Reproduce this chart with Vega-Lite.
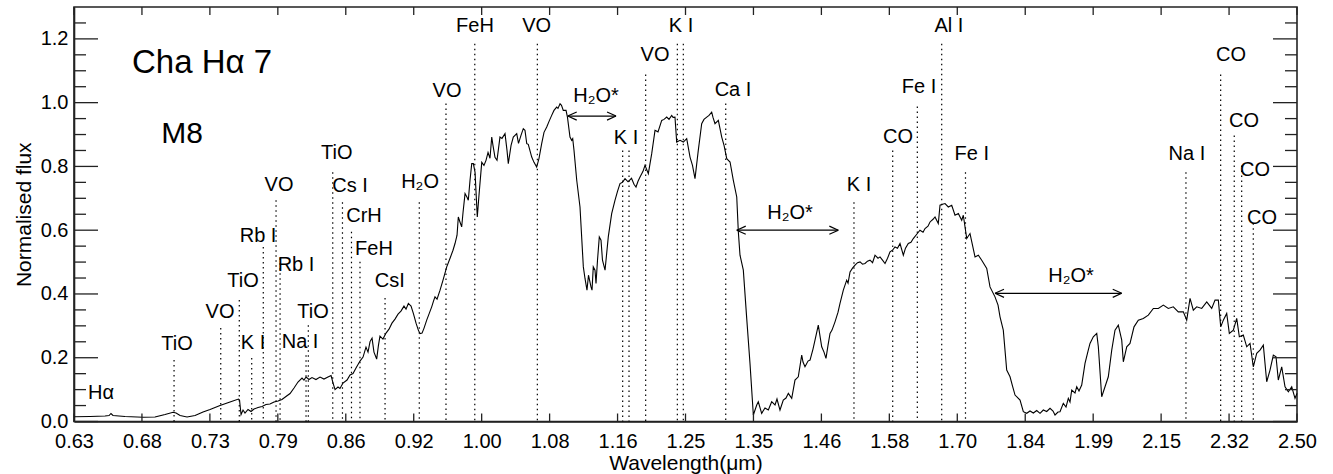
{
 "$schema": "https://vega.github.io/schema/vega-lite/v6.json",
 "width": 1223,
 "height": 414.5,
 "autosize": {"type": "none"},
 "padding": {"left": 74, "top": 7, "right": 36, "bottom": 52.5},
 "background": "white",
 "config": {
  "view": {"stroke": "#222", "strokeWidth": 1.6},
  "font": "Liberation Sans",
  "axis": {"grid": false, "domainColor": "#222", "domainWidth": 1.6, "ticks": false, "labelColor": "#000", "labelFontSize": 20, "labelFont": "Liberation Sans", "titleFont": "Liberation Sans", "titleFontSize": 21, "titleFontWeight": "normal", "titleColor": "#000"}
 },
 "datasets": {
  "xticks": [{"v":0.63},{"v":0.680137},{"v":0.734264},{"v":0.792698},{"v":0.855783},{"v":0.923888},{"v":0.997413},{"v":1.07679},{"v":1.162484},{"v":1.254998},{"v":1.354874},{"v":1.462698},{"v":1.579103},{"v":1.704772},{"v":1.840442},{"v":1.986909},{"v":2.145033},{"v":2.315743},{"v":2.5}],
  "ymajor": [{"v":0},{"v":0.2},{"v":0.4},{"v":0.6},{"v":0.8},{"v":1.0},{"v":1.2}],
  "yminor": [{"v":0.05},{"v":0.1},{"v":0.15},{"v":0.25},{"v":0.3},{"v":0.35},{"v":0.45},{"v":0.5},{"v":0.55},{"v":0.65},{"v":0.7},{"v":0.75},{"v":0.85},{"v":0.9},{"v":0.95},{"v":1.05},{"v":1.1},{"v":1.15},{"v":1.25}],
  "lines": [
   {"species": "TiO", "lam": 0.7052, "top": 0.193},
   {"species": "VO", "lam": 0.7433, "top": 0.293},
   {"species": "TiO", "lam": 0.7590, "top": 0.381},
   {"species": "K I", "lam": 0.7697, "top": 0.199},
   {"species": "Rb I", "lam": 0.7798, "top": 0.547},
   {"species": "VO", "lam": 0.7911, "top": 0.694},
   {"species": "Rb I", "lam": 0.7947, "top": 0.512},
   {"species": "Na I", "lam": 0.8183, "top": 0.208},
   {"species": "TiO", "lam": 0.8204, "top": 0.302},
   {"species": "TiO", "lam": 0.8433, "top": 0.782},
   {"species": "Cs I", "lam": 0.8526, "top": 0.688},
   {"species": "CrH", "lam": 0.8613, "top": 0.595},
   {"species": "FeH", "lam": 0.8696, "top": 0.501},
   {"species": "CsI", "lam": 0.8945, "top": 0.387},
   {"species": "H2O", "lam": 0.9297, "top": 0.688},
   {"species": "VO", "lam": 0.9581, "top": 0.997},
   {"species": "FeH", "lam": 0.9897, "top": 1.185},
   {"species": "VO", "lam": 1.0620, "top": 1.185},
   {"species": "K I", "lam": 1.1692, "top": 0.850},
   {"species": "K I", "lam": 1.1776, "top": 0.850},
   {"species": "VO", "lam": 1.1999, "top": 1.088},
   {"species": "K I", "lam": 1.2435, "top": 1.185},
   {"species": "K I", "lam": 1.2519, "top": 1.185},
   {"species": "Ca I", "lam": 1.3132, "top": 0.997},
   {"species": "K I", "lam": 1.5174, "top": 0.688},
   {"species": "CO", "lam": 1.5851, "top": 0.850},
   {"species": "Fe I", "lam": 1.6297, "top": 0.988},
   {"species": "Al I", "lam": 1.6751, "top": 1.185},
   {"species": "Fe I", "lam": 1.7206, "top": 0.782},
   {"species": "Na I", "lam": 2.2059, "top": 0.782},
   {"species": "CO", "lam": 2.2939, "top": 1.088},
   {"species": "CO", "lam": 2.3293, "top": 0.897},
   {"species": "CO", "lam": 2.3489, "top": 0.803},
   {"species": "CO", "lam": 2.3798, "top": 0.622}
  ],
  "labels": [
   {"label": "Hα", "lam": 0.6495, "f": 0.089},
   {"label": "TiO", "lam": 0.7076, "f": 0.243},
   {"label": "VO", "lam": 0.7427, "f": 0.343},
   {"label": "TiO", "lam": 0.7622, "f": 0.440},
   {"label": "K I", "lam": 0.7708, "f": 0.246},
   {"label": "Rb I", "lam": 0.7752, "f": 0.581},
   {"label": "VO", "lam": 0.7938, "f": 0.741},
   {"label": "Rb I", "lam": 0.8091, "f": 0.490},
   {"label": "TiO", "lam": 0.8248, "f": 0.343},
   {"label": "Na I", "lam": 0.8128, "f": 0.249},
   {"label": "TiO", "lam": 0.8471, "f": 0.841},
   {"label": "Cs I", "lam": 0.8599, "f": 0.738},
   {"label": "CrH", "lam": 0.8735, "f": 0.644},
   {"label": "FeH", "lam": 0.8834, "f": 0.542},
   {"label": "CsI", "lam": 0.8992, "f": 0.440},
   {"label": "H₂O", "lam": 0.9305, "f": 0.750},
   {"label": "VO", "lam": 0.9592, "f": 1.038},
   {"label": "FeH", "lam": 0.9899, "f": 1.240},
   {"label": "VO", "lam": 1.0612, "f": 1.240},
   {"label": "H₂O*", "lam": 1.1346, "f": 1.020},
   {"label": "K I", "lam": 1.1736, "f": 0.890},
   {"label": "VO", "lam": 1.2126, "f": 1.151},
   {"label": "K I", "lam": 1.2487, "f": 1.240},
   {"label": "Ca I", "lam": 1.3240, "f": 1.040},
   {"label": "H₂O*", "lam": 1.4118, "f": 0.653},
   {"label": "K I", "lam": 1.5260, "f": 0.742},
   {"label": "CO", "lam": 1.5946, "f": 0.893},
   {"label": "Fe I", "lam": 1.6328, "f": 1.049},
   {"label": "Al I", "lam": 1.6889, "f": 1.240},
   {"label": "Fe I", "lam": 1.7327, "f": 0.840},
   {"label": "H₂O*", "lam": 1.9379, "f": 0.456},
   {"label": "Na I", "lam": 2.2084, "f": 0.839},
   {"label": "CO", "lam": 2.3207, "f": 1.151},
   {"label": "CO", "lam": 2.3549, "f": 0.943},
   {"label": "CO", "lam": 2.3843, "f": 0.788},
   {"label": "CO", "lam": 2.4032, "f": 0.639}
  ],
  "arrows": [
   {"lam1": 1.0990, "lam2": 1.1605, "f": 0.958},
   {"lam1": 1.3296, "lam2": 1.4909, "f": 0.600},
   {"lam1": 1.7788, "lam2": 2.0519, "f": 0.402}
  ],
  "spectrum": [
   {"w":0.6300,"f":0.0150},{"w":0.6415,"f":0.0157},{"w":0.6524,"f":0.0172},{"w":0.6554,"f":0.0188},{"w":0.6568,"f":0.0251},{"w":0.6583,"f":0.0188},{"w":0.6673,"f":0.0157},{"w":0.6810,"f":0.0132},{"w":0.6902,"f":0.0141},{"w":0.6981,"f":0.0219},
   {"w":0.7044,"f":0.0288},{"w":0.7068,"f":0.0266},{"w":0.7100,"f":0.0188},{"w":0.7156,"f":0.0141},{"w":0.7221,"f":0.0188},{"w":0.7286,"f":0.0298},{"w":0.7344,"f":0.0376},{"w":0.7427,"f":0.0501},{"w":0.7511,"f":0.0611},{"w":0.7583,"f":0.0705},
   {"w":0.7592,"f":0.0673},{"w":0.7605,"f":0.0219},{"w":0.7622,"f":0.0360},{"w":0.7639,"f":0.0266},{"w":0.7665,"f":0.0376},{"w":0.7691,"f":0.0313},{"w":0.7717,"f":0.0392},{"w":0.7752,"f":0.0439},{"w":0.7787,"f":0.0470},{"w":0.7822,"f":0.0532},
   {"w":0.7857,"f":0.0548},{"w":0.7893,"f":0.0611},{"w":0.7929,"f":0.0642},{"w":0.7964,"f":0.0689},{"w":0.8000,"f":0.0783},{"w":0.8037,"f":0.0877},{"w":0.8073,"f":0.1049},{"w":0.8109,"f":0.1237},{"w":0.8146,"f":0.1363},{"w":0.8164,"f":0.1300},
   {"w":0.8183,"f":0.1394},{"w":0.8210,"f":0.1316},{"w":0.8238,"f":0.1378},{"w":0.8275,"f":0.1316},{"w":0.8313,"f":0.1394},{"w":0.8350,"f":0.1331},{"w":0.8388,"f":0.1394},{"w":0.8417,"f":0.1441},{"w":0.8436,"f":0.1206},{"w":0.8455,"f":0.1002},
   {"w":0.8483,"f":0.1081},{"w":0.8502,"f":0.1034},{"w":0.8531,"f":0.1206},{"w":0.8570,"f":0.1300},{"w":0.8599,"f":0.1457},{"w":0.8628,"f":0.1504},{"w":0.8657,"f":0.1676},{"w":0.8696,"f":0.1895},{"w":0.8726,"f":0.2020},{"w":0.8755,"f":0.2334},
   {"w":0.8775,"f":0.2177},{"w":0.8795,"f":0.2506},{"w":0.8815,"f":0.2615},{"w":0.8834,"f":0.2177},{"w":0.8861,"f":0.1958},{"w":0.8879,"f":0.2396},{"w":0.8894,"f":0.2678},{"w":0.8924,"f":0.2584},{"w":0.8955,"f":0.2772},{"w":0.8985,"f":0.2897},
   {"w":0.9015,"f":0.3085},{"w":0.9046,"f":0.3211},{"w":0.9077,"f":0.3367},{"w":0.9107,"f":0.3461},{"w":0.9138,"f":0.3618},{"w":0.9159,"f":0.3524},{"w":0.9183,"f":0.3702},{"w":0.9211,"f":0.3618},{"w":0.9235,"f":0.3389},{"w":0.9263,"f":0.3085},
   {"w":0.9287,"f":0.2866},{"w":0.9305,"f":0.2756},{"w":0.9326,"f":0.2772},{"w":0.9347,"f":0.2929},{"w":0.9375,"f":0.3179},{"w":0.9399,"f":0.3367},{"w":0.9428,"f":0.3596},{"w":0.9447,"f":0.3774},{"w":0.9463,"f":0.3909},{"w":0.9485,"f":0.3837},
   {"w":0.9517,"f":0.4119},{"w":0.9549,"f":0.4432},{"w":0.9589,"f":0.4849},{"w":0.9625,"f":0.5121},{"w":0.9657,"f":0.5372},{"w":0.9679,"f":0.5582},{"w":0.9701,"f":0.5842},{"w":0.9715,"f":0.6415},{"w":0.9734,"f":0.6249},{"w":0.9752,"f":0.6102},
   {"w":0.9767,"f":0.6562},{"w":0.9789,"f":0.7148},{"w":0.9811,"f":0.7032},{"w":0.9825,"f":0.6938},{"w":0.9844,"f":0.7565},{"w":0.9863,"f":0.8088},{"w":0.9881,"f":0.8088},{"w":0.9900,"f":0.7815},{"w":0.9925,"f":0.6415},{"w":0.9944,"f":0.7095},
   {"w":0.9975,"f":0.8128},{"w":1.0000,"f":0.8034},{"w":1.0023,"f":0.8191},{"w":1.0046,"f":0.8441},{"w":1.0068,"f":0.8254},{"w":1.0088,"f":0.8921},{"w":1.0102,"f":0.8661},{"w":1.0125,"f":0.8285},{"w":1.0148,"f":0.8191},{"w":1.0182,"f":0.8921},
   {"w":1.0205,"f":0.8880},{"w":1.0240,"f":0.9027},{"w":1.0263,"f":0.8504},{"w":1.0278,"f":0.8088},{"w":1.0310,"f":0.8661},{"w":1.0336,"f":0.8921},{"w":1.0376,"f":0.9027},{"w":1.0397,"f":0.8723},{"w":1.0426,"f":0.8974},{"w":1.0453,"f":0.9184},
   {"w":1.0473,"f":0.9131},{"w":1.0494,"f":0.8714},{"w":1.0512,"f":0.8692},{"w":1.0553,"f":0.8294},{"w":1.0580,"f":0.8128},{"w":1.0612,"f":0.7981},{"w":1.0640,"f":0.8254},{"w":1.0672,"f":0.8714},{"w":1.0700,"f":0.9068},{"w":1.0733,"f":0.9234},
   {"w":1.0761,"f":0.9413},{"w":1.0793,"f":0.9601},{"w":1.0821,"f":0.9757},{"w":1.0854,"f":0.9860},{"w":1.0870,"f":0.9820},{"w":1.0895,"f":0.9967},{"w":1.0913,"f":0.9914},{"w":1.0935,"f":0.9757},{"w":1.0969,"f":0.9757},{"w":1.0987,"f":0.9538},
   {"w":1.1018,"f":0.8921},{"w":1.1039,"f":0.8817},{"w":1.1052,"f":0.8871},{"w":1.1068,"f":0.8504},{"w":1.1102,"f":0.7565},{"w":1.1143,"f":0.6728},{"w":1.1185,"f":0.4849},{"w":1.1206,"f":0.4486},{"w":1.1231,"f":0.4119},{"w":1.1250,"f":0.4589},
   {"w":1.1282,"f":0.4222},{"w":1.1295,"f":0.4119},{"w":1.1311,"f":0.4849},{"w":1.1333,"f":0.4746},{"w":1.1346,"f":0.4329},{"w":1.1365,"f":0.5059},{"w":1.1388,"f":0.5789},{"w":1.1410,"f":0.5685},{"w":1.1429,"f":0.5059},{"w":1.1462,"f":0.4746},
   {"w":1.1504,"f":0.5789},{"w":1.1548,"f":0.6522},{"w":1.1591,"f":0.6938},{"w":1.1624,"f":0.7220},{"w":1.1657,"f":0.7461},{"w":1.1690,"f":0.7502},{"w":1.1723,"f":0.7618},{"w":1.1763,"f":0.7518},{"w":1.1809,"f":0.7627},{"w":1.1842,"f":0.7439},
   {"w":1.1869,"f":0.7355},{"w":1.1896,"f":0.7533},{"w":1.1923,"f":0.7668},{"w":1.1963,"f":0.7846},{"w":1.1990,"f":0.8034},{"w":1.2035,"f":0.7774},{"w":1.2081,"f":0.8401},{"w":1.2126,"f":0.9131},{"w":1.2167,"f":0.9084},{"w":1.2218,"f":0.9444},
   {"w":1.2250,"f":0.9475},{"w":1.2287,"f":0.9547},{"w":1.2319,"f":0.9475},{"w":1.2356,"f":0.9601},{"w":1.2375,"f":0.9538},{"w":1.2402,"f":0.9547},{"w":1.2426,"f":0.8764},{"w":1.2473,"f":0.8817},{"w":1.2519,"f":0.8764},{"w":1.2567,"f":0.8871},
   {"w":1.2614,"f":0.8294},{"w":1.2649,"f":0.8034},{"w":1.2685,"f":0.7618},{"w":1.2732,"f":0.8504},{"w":1.2781,"f":0.9341},{"w":1.2814,"f":0.9475},{"w":1.2854,"f":0.9547},{"w":1.2887,"f":0.9601},{"w":1.2926,"f":0.9704},{"w":1.2945,"f":0.9538},
   {"w":1.2974,"f":0.9341},{"w":1.3023,"f":0.9444},{"w":1.3073,"f":0.8921},{"w":1.3107,"f":0.8661},{"w":1.3147,"f":0.8244},{"w":1.3196,"f":0.8138},{"w":1.3245,"f":0.7565},{"w":1.3296,"f":0.7041},{"w":1.3320,"f":0.5945},{"w":1.3345,"f":0.5215},
   {"w":1.3395,"f":0.4746},{"w":1.3446,"f":0.3242},{"w":1.3496,"f":0.1823},{"w":1.3547,"f":0.0204},{"w":1.3599,"f":0.0517},{"w":1.3623,"f":0.0620},{"w":1.3675,"f":0.0257},{"w":1.3726,"f":0.0423},{"w":1.3778,"f":0.0360},{"w":1.3830,"f":0.0620},
   {"w":1.3882,"f":0.0517},{"w":1.3913,"f":0.0705},{"w":1.3960,"f":0.0360},{"w":1.4012,"f":0.0673},{"w":1.4055,"f":0.0736},{"w":1.4092,"f":0.0883},{"w":1.4146,"f":0.0727},{"w":1.4198,"f":0.1300},{"w":1.4251,"f":0.1403},{"w":1.4306,"f":0.2083},
   {"w":1.4327,"f":0.1864},{"w":1.4359,"f":0.1716},{"w":1.4408,"f":0.1895},{"w":1.4441,"f":0.1926},{"w":1.4489,"f":0.2271},{"w":1.4522,"f":0.2553},{"w":1.4576,"f":0.3023},{"w":1.4632,"f":0.2343},{"w":1.4670,"f":0.2177},{"w":1.4703,"f":0.1980},
   {"w":1.4737,"f":0.2396},{"w":1.4770,"f":0.2763},{"w":1.4803,"f":0.2866},{"w":1.4853,"f":0.3126},{"w":1.4904,"f":0.3430},{"w":1.4937,"f":0.3702},{"w":1.4993,"f":0.4119},{"w":1.5050,"f":0.4432},{"w":1.5073,"f":0.4338},{"w":1.5107,"f":0.4692},
   {"w":1.5149,"f":0.4808},{"w":1.5192,"f":0.4902},{"w":1.5235,"f":0.4980},{"w":1.5278,"f":0.5005},{"w":1.5321,"f":0.4933},{"w":1.5364,"f":0.4955},{"w":1.5407,"f":0.5027},{"w":1.5451,"f":0.5059},{"w":1.5495,"f":0.4980},{"w":1.5538,"f":0.5215},
   {"w":1.5591,"f":0.5121},{"w":1.5626,"f":0.5162},{"w":1.5670,"f":0.5059},{"w":1.5714,"f":0.4955},{"w":1.5759,"f":0.5121},{"w":1.5803,"f":0.5319},{"w":1.5848,"f":0.5372},{"w":1.5892,"f":0.5475},{"w":1.5937,"f":0.5435},{"w":1.5982,"f":0.5582},
   {"w":1.6042,"f":0.5215},{"w":1.6081,"f":0.5435},{"w":1.6132,"f":0.5582},{"w":1.6181,"f":0.5623},{"w":1.6223,"f":0.5738},{"w":1.6286,"f":0.5873},{"w":1.6346,"f":0.5998},{"w":1.6402,"f":0.5936},{"w":1.6439,"f":0.6052},{"w":1.6494,"f":0.6124},
   {"w":1.6532,"f":0.6258},{"w":1.6588,"f":0.6343},{"w":1.6625,"f":0.6415},{"w":1.6687,"f":0.6208},{"w":1.6719,"f":0.6782},{"w":1.6766,"f":0.6813},{"w":1.6814,"f":0.6835},{"w":1.6876,"f":0.6728},{"w":1.6941,"f":0.6782},{"w":1.7004,"f":0.6468},
   {"w":1.7068,"f":0.6522},{"w":1.7133,"f":0.6312},{"w":1.7164,"f":0.6468},{"w":1.7230,"f":0.5738},{"w":1.7294,"f":0.5895},{"w":1.7392,"f":0.5162},{"w":1.7457,"f":0.5215},{"w":1.7524,"f":0.5059},{"w":1.7623,"f":0.4799},{"w":1.7688,"f":0.4222},
   {"w":1.7788,"f":0.3909},{"w":1.7849,"f":0.3649},{"w":1.7889,"f":0.3283},{"w":1.7955,"f":0.2866},{"w":1.8024,"f":0.1613},{"w":1.8092,"f":0.1403},{"w":1.8143,"f":0.1112},{"w":1.8194,"f":0.0830},{"w":1.8297,"f":0.0673},{"w":1.8365,"f":0.0307},
   {"w":1.8435,"f":0.0257},{"w":1.8504,"f":0.0329},{"w":1.8573,"f":0.0266},{"w":1.8644,"f":0.0345},{"w":1.8714,"f":0.0257},{"w":1.8783,"f":0.0360},{"w":1.8855,"f":0.0313},{"w":1.8926,"f":0.0413},{"w":1.8990,"f":0.0329},{"w":1.9033,"f":0.0204},
   {"w":1.9097,"f":0.0298},{"w":1.9140,"f":0.0307},{"w":1.9211,"f":0.0570},{"w":1.9270,"f":0.0454},{"w":1.9320,"f":0.0727},{"w":1.9357,"f":0.0611},{"w":1.9394,"f":0.0987},{"w":1.9466,"f":0.0893},{"w":1.9504,"f":0.1090},{"w":1.9554,"f":0.0955},
   {"w":1.9614,"f":0.1143},{"w":1.9687,"f":0.1823},{"w":1.9754,"f":0.2208},{"w":1.9798,"f":0.2449},{"w":1.9872,"f":0.2656},{"w":1.9949,"f":0.2763},{"w":1.9985,"f":0.2343},{"w":2.0061,"f":0.0777},{"w":2.0136,"f":0.1090},{"w":2.0211,"f":0.1403},
   {"w":2.0289,"f":0.2240},{"w":2.0364,"f":0.2866},{"w":2.0440,"f":0.3023},{"w":2.0519,"f":0.2553},{"w":2.0556,"f":0.1873},{"w":2.0635,"f":0.2343},{"w":2.0711,"f":0.2449},{"w":2.0805,"f":0.2969},{"w":2.0906,"f":0.3179},{"w":2.1024,"f":0.3233},
   {"w":2.1143,"f":0.3336},{"w":2.1263,"f":0.3546},{"w":2.1383,"f":0.3546},{"w":2.1504,"f":0.3649},{"w":2.1625,"f":0.3546},{"w":2.1747,"f":0.3596},{"w":2.1870,"f":0.3439},{"w":2.1994,"f":0.3439},{"w":2.2078,"f":0.3179},{"w":2.2161,"f":0.3859},
   {"w":2.2243,"f":0.3493},{"w":2.2328,"f":0.3596},{"w":2.2455,"f":0.3546},{"w":2.2582,"f":0.3752},{"w":2.2709,"f":0.3546},{"w":2.2794,"f":0.3806},{"w":2.2879,"f":0.3806},{"w":2.2941,"f":0.2969},{"w":2.3008,"f":0.3179},{"w":2.3096,"f":0.3389},
   {"w":2.3164,"f":0.2763},{"w":2.3269,"f":0.2866},{"w":2.3358,"f":0.3233},{"w":2.3427,"f":0.2656},{"w":2.3532,"f":0.2710},{"w":2.3623,"f":0.2343},{"w":2.3711,"f":0.2449},{"w":2.3799,"f":0.1716},{"w":2.3890,"f":0.2136},{"w":2.3979,"f":0.2240},
   {"w":2.4069,"f":0.2396},{"w":2.4161,"f":0.1247},{"w":2.4251,"f":0.1613},{"w":2.4342,"f":0.2083},{"w":2.4416,"f":0.2030},{"w":2.4479,"f":0.1300},{"w":2.4573,"f":0.1716},{"w":2.4665,"f":0.1090},{"w":2.4757,"f":0.0933},{"w":2.4852,"f":0.1090},
   {"w":2.4944,"f":0.0727},{"w":2.5000,"f":0.0883}
  ]
 },
 "layer": [
  {
   "data": {"name": "spectrum"},
   "mark": {"type": "line", "color": "#000", "strokeWidth": 1.1},
   "encoding": {
    "x": {"field": "w", "type": "quantitative", "scale": {"type": "log", "domain": [0.63, 2.5], "nice": false},
     "axis": {"orient": "bottom", "values": [0.63,0.680137,0.734264,0.792698,0.855783,0.923888,0.997413,1.07679,1.162484,1.254998,1.354874,1.462698,1.579103,1.704772,1.840442,1.986909,2.145033,2.315743,2.5], "format": ".2f", "title": "Wavelength(μm)", "labelPadding": 10, "titlePadding": 1, "labelFlush": false, "labelOverlap": false}},
    "y": {"field": "f", "type": "quantitative", "scale": {"domain": [0, 1.3], "nice": false, "zero": false},
     "axis": {"orient": "left", "values": [0,0.2,0.4,0.6,0.8,1.0,1.2], "format": ".1f", "title": "Normalised flux", "labelPadding": 6, "titlePadding": 6, "labelOverlap": false, "labelFlush": false}}
   }
  },
  {
   "data": {"name": "xticks"},
   "mark": {"type": "rule", "color": "#222", "strokeWidth": 1.3, "y2Offset": -8},
   "encoding": {
    "x": {"field": "v", "type": "quantitative", "scale": {"type": "log", "domain": [0.63, 2.5], "nice": false}, "axis": null},
    "y": {"datum": 0, "type": "quantitative", "scale": {"domain": [0, 1.3], "nice": false, "zero": false}, "axis": null},
    "y2": {"datum": 0}
   }
  },
  {
   "data": {"name": "xticks"},
   "mark": {"type": "rule", "color": "#222", "strokeWidth": 1.3, "y2Offset": 8},
   "encoding": {
    "x": {"field": "v", "type": "quantitative", "scale": {"type": "log", "domain": [0.63, 2.5], "nice": false}, "axis": null},
    "y": {"datum": 1.3, "type": "quantitative", "scale": {"domain": [0, 1.3], "nice": false, "zero": false}, "axis": null},
    "y2": {"datum": 1.3}
   }
  },
  {
   "data": {"name": "ymajor"},
   "mark": {"type": "rule", "color": "#222", "strokeWidth": 1.3, "x2Offset": 24},
   "encoding": {
    "y": {"field": "v", "type": "quantitative", "scale": {"domain": [0, 1.3], "nice": false, "zero": false}, "axis": null},
    "x": {"datum": 0.63, "type": "quantitative", "scale": {"type": "log", "domain": [0.63, 2.5], "nice": false}, "axis": null},
    "x2": {"datum": 0.63}
   }
  },
  {
   "data": {"name": "yminor"},
   "mark": {"type": "rule", "color": "#222", "strokeWidth": 1.3, "x2Offset": 12},
   "encoding": {
    "y": {"field": "v", "type": "quantitative", "scale": {"domain": [0, 1.3], "nice": false, "zero": false}, "axis": null},
    "x": {"datum": 0.63, "type": "quantitative", "scale": {"type": "log", "domain": [0.63, 2.5], "nice": false}, "axis": null},
    "x2": {"datum": 0.63}
   }
  },
  {
   "data": {"name": "ymajor"},
   "mark": {"type": "rule", "color": "#222", "strokeWidth": 1.3, "x2Offset": -24},
   "encoding": {
    "y": {"field": "v", "type": "quantitative", "scale": {"domain": [0, 1.3], "nice": false, "zero": false}, "axis": null},
    "x": {"datum": 2.5, "type": "quantitative", "scale": {"type": "log", "domain": [0.63, 2.5], "nice": false}, "axis": null},
    "x2": {"datum": 2.5}
   }
  },
  {
   "data": {"name": "yminor"},
   "mark": {"type": "rule", "color": "#222", "strokeWidth": 1.3, "x2Offset": -12},
   "encoding": {
    "y": {"field": "v", "type": "quantitative", "scale": {"domain": [0, 1.3], "nice": false, "zero": false}, "axis": null},
    "x": {"datum": 2.5, "type": "quantitative", "scale": {"type": "log", "domain": [0.63, 2.5], "nice": false}, "axis": null},
    "x2": {"datum": 2.5}
   }
  },
  {
   "data": {"name": "lines"},
   "mark": {"type": "rule", "strokeDash": [1.5, 3.5], "strokeWidth": 1.2, "color": "#000"},
   "encoding": {
    "x": {"field": "lam", "type": "quantitative", "scale": {"type": "log", "domain": [0.63, 2.5], "nice": false}, "axis": null},
    "y": {"field": "top", "type": "quantitative", "scale": {"domain": [0, 1.3], "nice": false, "zero": false}, "axis": null},
    "y2": {"datum": 0}
   }
  },
  {
   "data": {"name": "arrows"},
   "mark": {"type": "rule", "color": "#000", "strokeWidth": 1.2},
   "encoding": {
    "x": {"field": "lam1", "type": "quantitative", "scale": {"type": "log", "domain": [0.63, 2.5], "nice": false}, "axis": null},
    "x2": {"field": "lam2"},
    "y": {"field": "f", "type": "quantitative", "scale": {"domain": [0, 1.3], "nice": false, "zero": false}, "axis": null}
   }
  },
  {
   "data": {"name": "arrows"},
   "transform": [{"fold": ["lam1", "lam2"], "as": ["end", "lam"]}],
   "mark": {"type": "point", "filled": false, "color": "#000", "strokeWidth": 1.2, "size": 324, "opacity": 1},
   "encoding": {
    "x": {"field": "lam", "type": "quantitative", "scale": {"type": "log", "domain": [0.63, 2.5], "nice": false}, "axis": null},
    "y": {"field": "f", "type": "quantitative", "scale": {"domain": [0, 1.3], "nice": false, "zero": false}, "axis": null},
    "shape": {"field": "end", "type": "nominal", "scale": {"domain": ["lam1", "lam2"], "range": ["M0,0L1,-0.45M0,0L1,0.45", "M0,0L-1,-0.45M0,0L-1,0.45"]}, "legend": null}
   }
  },
  {
   "data": {"name": "labels"},
   "mark": {"type": "text", "font": "Liberation Sans", "fontSize": 20, "color": "#000", "align": "center", "baseline": "middle"},
   "encoding": {
    "x": {"field": "lam", "type": "quantitative", "scale": {"type": "log", "domain": [0.63, 2.5], "nice": false}, "axis": null},
    "y": {"field": "f", "type": "quantitative", "scale": {"domain": [0, 1.3], "nice": false, "zero": false}, "axis": null},
    "text": {"field": "label"}
   }
  },
  {
   "data": {"values": [{"name": "Cha Hα 7", "lam": 0.7278, "f": 1.123}]},
   "mark": {"type": "text", "font": "Liberation Sans", "fontSize": 33, "color": "#000", "align": "center", "baseline": "middle"},
   "encoding": {
    "x": {"field": "lam", "type": "quantitative", "scale": {"type": "log", "domain": [0.63, 2.5], "nice": false}, "axis": null},
    "y": {"field": "f", "type": "quantitative", "scale": {"domain": [0, 1.3], "nice": false, "zero": false}, "axis": null},
    "text": {"field": "name"}
   }
  },
  {
   "data": {"values": [{"name": "M8", "lam": 0.7116, "f": 0.9005}]},
   "mark": {"type": "text", "font": "Liberation Sans", "fontSize": 30, "color": "#000", "align": "center", "baseline": "middle"},
   "encoding": {
    "x": {"field": "lam", "type": "quantitative", "scale": {"type": "log", "domain": [0.63, 2.5], "nice": false}, "axis": null},
    "y": {"field": "f", "type": "quantitative", "scale": {"domain": [0, 1.3], "nice": false, "zero": false}, "axis": null},
    "text": {"field": "name"}
   }
  }
 ],
 "resolve": {"axis": {"x": "independent", "y": "independent"}}
}
